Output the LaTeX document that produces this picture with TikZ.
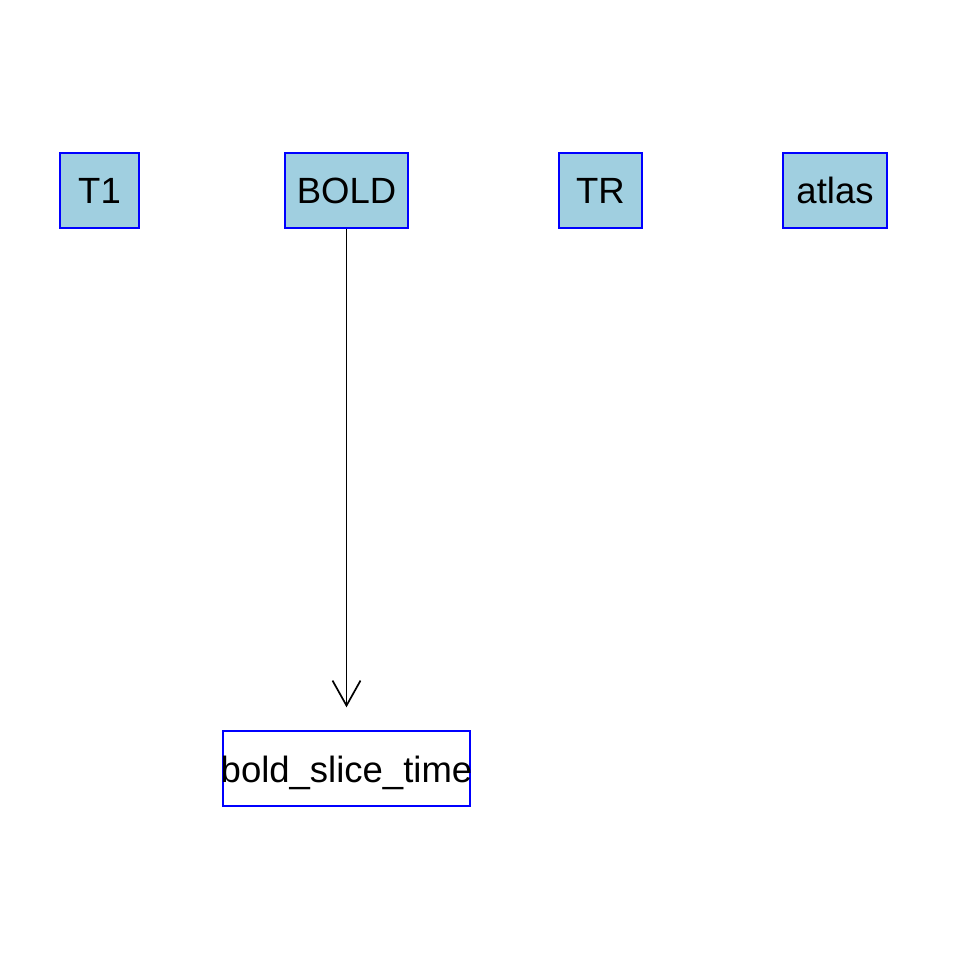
\documentclass[tikz,border=0pt]{standalone}
\usepackage{fontspec}
\setmainfont{Liberation Sans}
\usetikzlibrary{arrows.meta}
\definecolor{boxfill}{RGB}{160,207,224}
\definecolor{boxline}{RGB}{0,0,255}
\tikzset{
  inbox/.style={draw=boxline, line width=1.4pt, fill=boxfill, minimum height=75pt, inner sep=0pt,
    font=\fontsize{36.5}{44}\selectfont, text height=27pt, text depth=0pt},
  outbox/.style={inbox, fill=white},
  conn/.style={draw=black, line width=1.7pt, -{Straight Barb[length=25pt,width=28pt]}, shorten >=23pt}
}
\begin{document}
\begin{tikzpicture}[x=1pt,y=-1pt]
\useasboundingbox (0,0) rectangle (960,960);
\node[inbox, minimum width=79pt] (T1) at (99.5,190.5) {\makebox[0pt]{T1}};
\node[inbox, minimum width=123pt] (BOLD) at (346.5,190.5) {\makebox[0pt]{BOLD}};
\node[inbox, minimum width=83pt] (TR) at (600.5,190.5) {\makebox[0pt]{TR}};
\node[inbox, minimum width=104pt] (atlas) at (835,190.5) {\makebox[0pt]{atlas}};
\node[outbox, minimum width=247pt] (bst) at (346.5,768.5) {\makebox[0pt]{bold\_slice\_time}};
\draw[conn] (BOLD) -- (bst);
\end{tikzpicture}
\end{document}
